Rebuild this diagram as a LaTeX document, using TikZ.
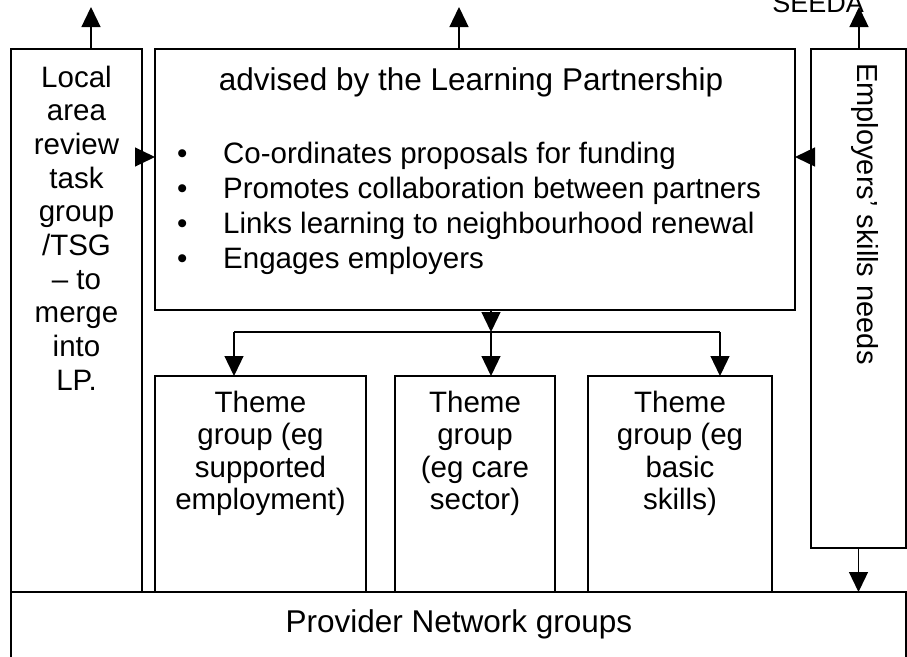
\documentclass[tikz,border=0pt]{standalone}
\usepackage{fontspec}
\setmainfont{Liberation Sans}
\usetikzlibrary{arrows.meta}
\begin{document}
\begin{tikzpicture}[x=1pt,y=-1pt,
  box/.style={draw, line width=1.3pt, inner sep=0pt, outer sep=0pt, anchor=north west},
  arr/.style={line width=1.3pt, -{Triangle[length=20pt,width=19pt]}},
  ln/.style={line width=1.3pt},
  body/.style={font=\fontsize{29.5}{33.7}\selectfont, inner sep=0pt, align=center},
  theme/.style={font=\fontsize{29.5}{32.5}\selectfont, inner sep=0pt, align=center, anchor=base},
  big/.style={font=\fontsize{31.5}{36}\selectfont, inner sep=0pt, anchor=base},
]
\clip (0,0) rectangle (907,656);
\fill[white] (0,0) rectangle (907,656);

% boxes
\node[box, minimum width=131pt, minimum height=543pt] (lb) at (11,49) {};
\node[box, minimum width=640pt, minimum height=261pt] (mb) at (155,49) {};
\node[box, minimum width=95pt, minimum height=499pt] (rb) at (811,49) {};
\node[box, minimum width=211pt, minimum height=216pt] (t1) at (155,376) {};
\node[box, minimum width=160pt, minimum height=216pt] (t2) at (395,376) {};
\node[box, minimum width=184pt, minimum height=216pt] (t3) at (588,376) {};
\node[box, minimum width=895pt, minimum height=100pt] (pb) at (11,592) {};

% texts (multi-line nodes: base anchor = baseline of last line)
\node[body, anchor=base] (lbt) at (76.5,390.3) {Local\\area\\review\\task\\group\\/TSG\\– to\\merge\\into\\LP.};
\node[big] (title) at (471,90) {advised by the Learning Partnership};
\node[font=\fontsize{29.5}{35.3}\selectfont, inner sep=0pt, align=left, anchor=base west] (bul) at (177,268.9)
  {\makebox[46pt][l]{•}Co-ordinates proposals for funding\\
   \makebox[46pt][l]{•}Promotes collaboration between partners\\
   \makebox[46pt][l]{•}Links learning to neighbourhood renewal\\
   \makebox[46pt][l]{•}Engages employers};
\node[theme] (t1t) at (260.5,509.5) {Theme\\group (eg\\supported\\employment)};
\node[theme] (t2t) at (475,509.5) {Theme\\group\\(eg care\\sector)};
\node[theme] (t3t) at (680,509.5) {Theme\\group (eg\\basic\\skills)};
\node[big] (pbt) at (459,632) {Provider Network groups};
\node[font=\fontsize{27}{30}\selectfont, inner sep=0pt, anchor=base east] (seeda) at (864,12) {SEEDA};
\node[font=\fontsize{29}{33}\selectfont, inner sep=0pt, rotate=-90, anchor=base west] (emp) at (857,63) {Employers’ skills needs};

% connectors
\coordinate (lup) at (91,7);
\coordinate (mup) at (459,7);
\coordinate (rup) at (859,7);
\draw[arr] (lup |- lb.north) -- (lup);
\draw[arr] (mup |- mb.north) -- (mup);
\draw[arr] (rup |- rb.north) -- (rup);
\coordinate (ya) at (0,157);
\draw[arr] (lb.east |- ya) -- (mb.west |- ya);
\draw[arr] (rb.west |- ya) -- (mb.east |- ya);
\coordinate (sp) at (491,332);
\coordinate (s1) at (234,332);
\coordinate (s3) at (720,332);
\draw[arr] (sp |- mb.south) -- (sp);
\draw[ln] (s1) -- (s3);
\draw[arr] (s1) -- (s1 |- t1.north);
\draw[arr] (sp) -- (sp |- t2.north);
\draw[arr] (s3) -- (s3 |- t3.north);
\draw[arr] (rb.south) -- (rb.south |- pb.north);
\end{tikzpicture}
\end{document}
